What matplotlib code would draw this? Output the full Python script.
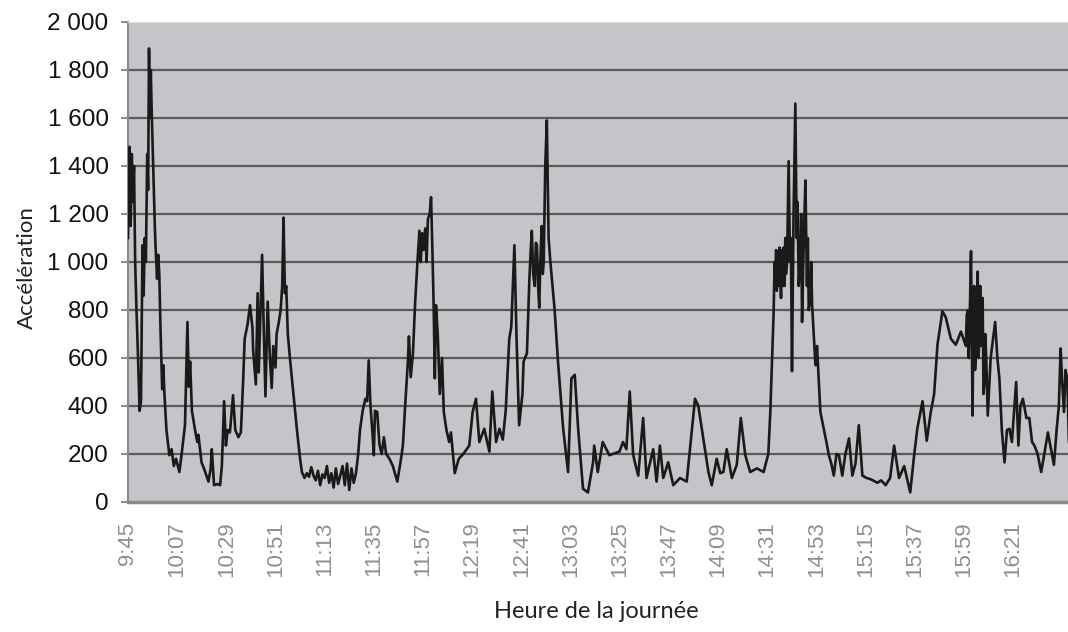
import matplotlib
matplotlib.use("Agg")
import matplotlib.pyplot as plt

# Time in minutes after 9:45 and measured acceleration
minutes = [
    0, 0.7, 1.2, 1.7, 2.2, 2.7, 3.2, 3.8, 4.5, 5.2, 5.8, 6.5, 7.0, 7.5, 8.0, 8.6, 9.0, 9.4, 9.8, 10.2,
    10.6, 11.2, 12.0, 12.3, 13.0, 13.5, 14.0, 14.6, 15.3, 15.8, 16.3, 17.2, 18.5, 19.5, 20.5, 21.5, 23.0, 24.0, 24.8, 25.5,
    26.6, 27.2, 27.8, 28.6, 30.0, 31.0, 31.5, 32.9, 34.0, 36.0, 37.0, 37.5, 38.5, 40.0, 41.2, 42.0, 43.0, 43.8, 44.6, 45.6,
    47.0, 48.0, 49.4, 50.5, 51.5, 52.2, 53.5, 54.6, 55.7, 56.0, 57.2, 58.0, 58.5, 59.0, 60.0, 60.8, 61.5, 62.5, 63.5, 64.3,
    65.0, 66.0, 66.5, 67.5, 68.3, 69.0, 69.6, 70.2, 70.8, 71.5, 72.6, 74.0, 75.6, 77.0, 77.8, 79.0, 80.0, 81.0, 82.0, 83.0,
    84.0, 85.0, 86.0, 87.0, 88.0, 89.0, 90.0, 91.0, 92.0, 93.0, 94.0, 95.0, 96.0, 97.0, 98.0, 99.0, 100.0, 101.0, 102.0, 103.0,
    103.8, 105.0, 106.2, 107.0, 107.7, 108.5, 109.3, 110.0, 110.5, 111.5, 112.5, 113.5, 114.5, 115.5, 117.0, 118.5, 120.5, 122.0, 123.0, 124.0,
    125.2, 125.7, 126.5, 127.5, 128.5, 129.5, 130.4, 131.0, 131.6, 132.2, 133.0, 133.6, 134.2, 135.0, 135.6, 136.2, 136.8, 137.3, 137.8, 138.6,
    139.5, 140.5, 141.3, 142.5, 143.7, 144.5, 146.2, 148.0, 150.0, 152.7, 154.2, 155.7, 157.2, 159.4, 161.7, 163.0, 164.7, 166.2, 167.7, 169.0,
    170.6, 171.5, 172.9, 173.8, 175.0, 176.5, 177.0, 178.5, 179.6, 180.2, 180.7, 181.3, 182.0, 182.5, 183.0, 183.5, 184.0, 184.5, 185.1, 185.6,
    186.0, 186.7, 187.4, 188.2, 189.0, 190.9, 192.4, 194.7, 196.9, 198.4, 199.9, 201.4, 203.6, 205.8, 208.1, 208.6, 210.2, 212.4, 215.4, 219.9,
    221.5, 223.0, 224.5, 226.0, 226.8, 228.3, 230.5, 232.0, 233.5, 235.0, 236.5, 238.0, 239.5, 241.7, 244.0, 247.0, 250.0, 252.2, 253.7, 255.2,
    257.4, 259.7, 261.2, 263.4, 265.0, 266.4, 267.9, 270.2, 272.4, 274.2, 276.2, 278.4, 281.4, 284.4, 286.5, 287.4, 288.9, 289.3, 289.6, 290.0,
    290.3, 290.7, 291.1, 291.5, 291.8, 292.2, 292.6, 293.0, 293.3, 293.8, 294.1, 294.4, 294.9, 295.6, 296.2, 296.6, 297.1, 297.8, 298.6, 299.2,
    299.6, 300.1, 300.8, 301.2, 301.6, 302.4, 303.1, 303.8, 304.2, 304.6, 305.3, 305.7, 306.1, 306.8, 307.6, 308.3, 309.8, 311.3, 312.5, 313.6,
    314.7, 315.8, 317.0, 318.1, 319.6, 321.0, 322.6, 324.1, 325.5, 327.0, 328.6, 330.5, 332.3, 335.3, 337.0, 339.0, 341.0, 342.8, 345.0, 347.3,
    349.0, 350.0, 351.7, 353.2, 355.5, 357.4, 359.2, 360.7, 362.2, 364.4, 365.9, 368.2, 370.4, 372.7, 374.9, 375.3, 375.8, 376.2, 376.5, 377.2,
    377.9, 378.3, 378.6, 379.0, 379.3, 379.8, 380.2, 380.6, 380.9, 381.3, 381.6, 382.0, 382.4, 382.8, 383.2, 383.6, 384.0, 384.7, 386.0, 388.0,
    389.0, 389.9, 391.0, 392.2, 393.3, 394.4, 395.5, 397.4, 398.4, 399.3, 400.4, 402.0, 403.3, 404.5, 405.6, 407.0, 408.6, 410.0, 411.6, 413.0,
    414.3, 415.5, 416.5, 417.3, 418.0, 418.8, 419.5, 420.3, 421.0,
]
acceleration = [
    1100, 1480, 1150, 1450, 1250, 1400, 1000, 800, 600, 380, 420, 1070, 860, 1100, 1000, 1450, 1300, 1890, 1600, 1800,
    1630, 1420, 1150, 1070, 930, 1030, 950, 700, 470, 570, 450, 300, 195, 220, 150, 180, 125, 200, 265, 320,
    750, 480, 585, 380, 300, 250, 280, 165, 140, 85, 140, 220, 70, 75, 70, 150, 420, 235, 300, 290,
    445, 300, 270, 290, 500, 680, 740, 820, 725, 630, 490, 870, 540, 700, 1030, 700, 440, 835, 600, 475,
    650, 560, 700, 750, 800, 900, 1185, 870, 900, 700, 585, 450, 300, 180, 125, 100, 120, 105, 145, 110,
    90, 130, 70, 115, 100, 150, 80, 120, 60, 140, 75, 110, 150, 70, 160, 50, 140, 80, 120, 200,
    300, 380, 430, 420, 590, 400, 300, 195, 380, 375, 240, 200, 270, 200, 180, 150, 85, 170, 235, 400,
    580, 690, 520, 620, 835, 1000, 1130, 1000, 1120, 1050, 1140, 1000, 1180, 1200, 1270, 1050, 800, 515, 820, 700,
    450, 600, 375, 300, 250, 290, 120, 180, 200, 235, 375, 430, 250, 305, 210, 460, 250, 305, 260, 380,
    680, 730, 1070, 700, 320, 450, 585, 620, 930, 1050, 1130, 950, 900, 1080, 1070, 900, 810, 1000, 1150, 950,
    1000, 1400, 1590, 1100, 1000, 800, 585, 307, 125, 515, 530, 307, 55, 40, 165, 235, 125, 250, 195, 210,
    250, 220, 460, 200, 165, 110, 350, 100, 160, 220, 85, 235, 100, 165, 70, 100, 85, 290, 430, 400,
    265, 125, 70, 180, 120, 125, 220, 100, 155, 350, 195, 125, 140, 125, 200, 375, 795, 1000, 900, 1050,
    880, 1045, 900, 1060, 950, 850, 1050, 900, 1060, 900, 1100, 950, 1000, 1420, 1000, 1100, 545, 1200, 1660, 1100,
    1250, 900, 1000, 1200, 750, 1100, 1340, 900, 1100, 800, 850, 1000, 820, 700, 570, 650, 375, 305, 250, 195,
    160, 110, 200, 195, 110, 200, 265, 110, 160, 320, 110, 100, 95, 80, 90, 70, 100, 235, 100, 150,
    80, 40, 190, 307, 420, 255, 375, 450, 655, 795, 770, 680, 655, 710, 650, 780, 800, 600, 700, 1045,
    360, 850, 900, 550, 600, 850, 960, 600, 700, 900, 650, 750, 850, 450, 500, 700, 600, 360, 600, 750,
    600, 515, 300, 165, 300, 305, 250, 500, 235, 400, 430, 350, 350, 250, 235, 200, 125, 200, 290, 220,
    155, 300, 400, 640, 500, 375, 550, 515, 250,
]

tick_minutes = [0, 22, 44, 66, 88, 110, 132, 154, 176, 198, 220, 242, 264, 286, 308, 330, 352, 374, 396]
tick_labels = ["9:45", "10:07", "10:29", "10:51", "11:13", "11:35", "11:57", "12:19", "12:41",
               "13:03", "13:25", "13:47", "14:09", "14:31", "14:53", "15:15", "15:37", "15:59", "16:21"]
y_ticks = [0, 200, 400, 600, 800, 1000, 1200, 1400, 1600, 1800, 2000]
y_labels = ["0", "200", "400", "600", "800", "1 000", "1 200", "1 400", "1 600", "1 800", "2 000"]

fig = plt.figure(figsize=(10.68, 6.32), dpi=100)
ax = fig.add_axes([128 / 1068, 130 / 632, 940 / 1068, 480 / 632])
ax.set_facecolor("#c4c5c9")
ax.set_xlim(0, 420.6)
ax.set_ylim(0, 2000)

for yv in y_ticks[1:]:
    ax.axhline(yv, color="#5a5a5a", lw=1.6, zorder=1)

ax.plot(minutes, acceleration, color="#1a1a1a", lw=1.9, zorder=3)

ax.set_yticks(y_ticks)
ax.set_yticklabels(y_labels, fontfamily="Liberation Sans", fontsize=17.5, color="#111111")
ax.tick_params(axis="y", direction="out", length=5, width=1.2, color="#777777", pad=9)

ax.set_xticks(tick_minutes)
ax.set_xticklabels(tick_labels, rotation=90, fontfamily="Liberation Sans", fontsize=16,
                   color="#8f8f8f", va="top", ha="center")
ax.tick_params(axis="x", length=0, pad=14)

ax.spines["right"].set_visible(False)
ax.spines["top"].set_color("#e2e2e2")
ax.spines["top"].set_linewidth(1.0)
ax.spines["left"].set_color("#8a8a8a")
ax.spines["left"].set_linewidth(1.5)
ax.spines["bottom"].set_color("#8a8a8a")
ax.spines["bottom"].set_linewidth(2.5)

fig.text(27 / 1068, 1 - 268 / 632, "Accélération", rotation=90, ha="center", va="center",
         fontfamily="Lato", fontsize=16, color="#222222")
fig.text(596 / 1068, 1 - 612 / 632, "Heure de la journée", ha="center", va="center",
         fontfamily="Lato", fontsize=17, color="#222222")

fig.savefig("out.png", dpi=100, facecolor="white")
